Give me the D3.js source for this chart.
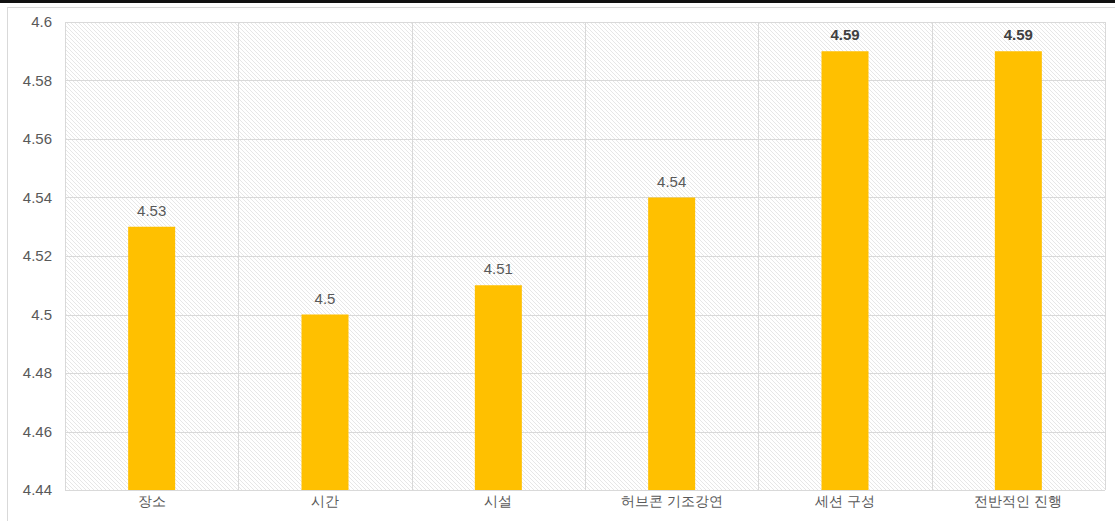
<!DOCTYPE html>
<html><head><meta charset="utf-8">
<script src="https://cdn.jsdelivr.net/npm/d3@7/dist/d3.min.js"></script>
<style>body{margin:0;background:#fff;}svg{display:block;font-family:"Noto Sans CJK KR","Noto Sans",sans-serif;}</style>
</head><body>
<script>
const categories = ["장소","시간","시설","허브콘 기조강연","세션 구성","전반적인 진행"];
const values = [4.53, 4.5, 4.51, 4.54, 4.59, 4.59];
const yTicks = [4.44, 4.46, 4.48, 4.5, 4.52, 4.54, 4.56, 4.58, 4.6];

const W = 1115, H = 521;
const svg = d3.select("body").append("svg").attr("width", W).attr("height", H);
const defs = svg.append("defs");
const pat = defs.append("pattern").attr("id","hatch").attr("patternUnits","userSpaceOnUse")
  .attr("width",4).attr("height",4);
pat.append("rect").attr("width",4).attr("height",4).attr("fill","#fff");
pat.append("path").attr("d","M-1,-1 L5,5 M-1,3 L1,5 M3,-1 L5,1").attr("stroke","#e4e4e4").attr("stroke-width",0.9);

// top black bar and container
svg.append("rect").attr("x",0).attr("y",0).attr("width",W).attr("height",3).attr("fill","#111");
svg.append("rect").attr("x",7.5).attr("y",7.5).attr("width",W-6).attr("height",H).attr("fill","#fff").attr("stroke","#d9d9d9");

const m = {l:65, r:1105, t:22, b:490};
const x = d3.scaleBand().domain(categories).range([m.l, m.r]).paddingInner(0).paddingOuter(0);
const y = d3.scaleLinear().domain([4.44, 4.6]).range([m.b, m.t]);

svg.append("rect").attr("x",m.l).attr("y",m.t).attr("width",m.r-m.l).attr("height",m.b-m.t).attr("fill","url(#hatch)");

// horizontal gridlines
svg.append("g").selectAll("line").data(yTicks).join("line")
  .attr("x1",m.l).attr("x2",m.r).attr("y1",d=>Math.round(y(d))+0.5).attr("y2",d=>Math.round(y(d))+0.5)
  .attr("stroke","#d9d9d9").attr("stroke-width",1);
// vertical gridlines
const vx = categories.map(c=>x(c)).concat([m.r]);
svg.append("g").selectAll("line").data(vx).join("line")
  .attr("x1",d=>Math.round(d)+0.5).attr("x2",d=>Math.round(d)+0.5).attr("y1",m.t).attr("y2",m.b)
  .attr("stroke","#d9d9d9").attr("stroke-width",1);

// y axis labels
const yAxis = d3.axisLeft(y).tickValues(yTicks).tickFormat(d=>String(+d.toFixed(2))).tickSize(0).tickPadding(13);
const ga = svg.append("g").attr("transform",`translate(${m.l},0)`).call(yAxis);
ga.select(".domain").remove();
ga.selectAll("text").attr("fill","#595959").style("font-size","15px").style("font-family","'Liberation Sans',Arial,sans-serif");

// x axis labels
const xAxis = d3.axisBottom(x).tickSize(0).tickPadding(6);
const gx = svg.append("g").attr("transform",`translate(0,${m.b})`).call(xAxis);
gx.select(".domain").remove();
gx.selectAll("text").attr("fill","#595959").style("font-size","14px");

// bars
const bw = 47;
svg.append("g").selectAll("rect").data(values).join("rect")
  .attr("x",(d,i)=>x(categories[i])+x.bandwidth()/2-bw/2)
  .attr("y",d=>y(d)).attr("width",bw).attr("height",d=>y(4.44)-y(d))
  .attr("fill","#ffc000");

// value labels
svg.append("g").selectAll("text").data(values).join("text")
  .attr("x",(d,i)=>x(categories[i])+x.bandwidth()/2)
  .attr("y",d=>y(d)-11)
  .attr("text-anchor","middle")
  .attr("fill",(d,i)=>i>=4?"#404040":"#595959")
  .attr("font-weight",(d,i)=>i>=4?"bold":"normal")
  .style("font-size","15px").style("font-family","'Liberation Sans',Arial,sans-serif")
  .text(d=>String(d));
</script>
</body></html>
